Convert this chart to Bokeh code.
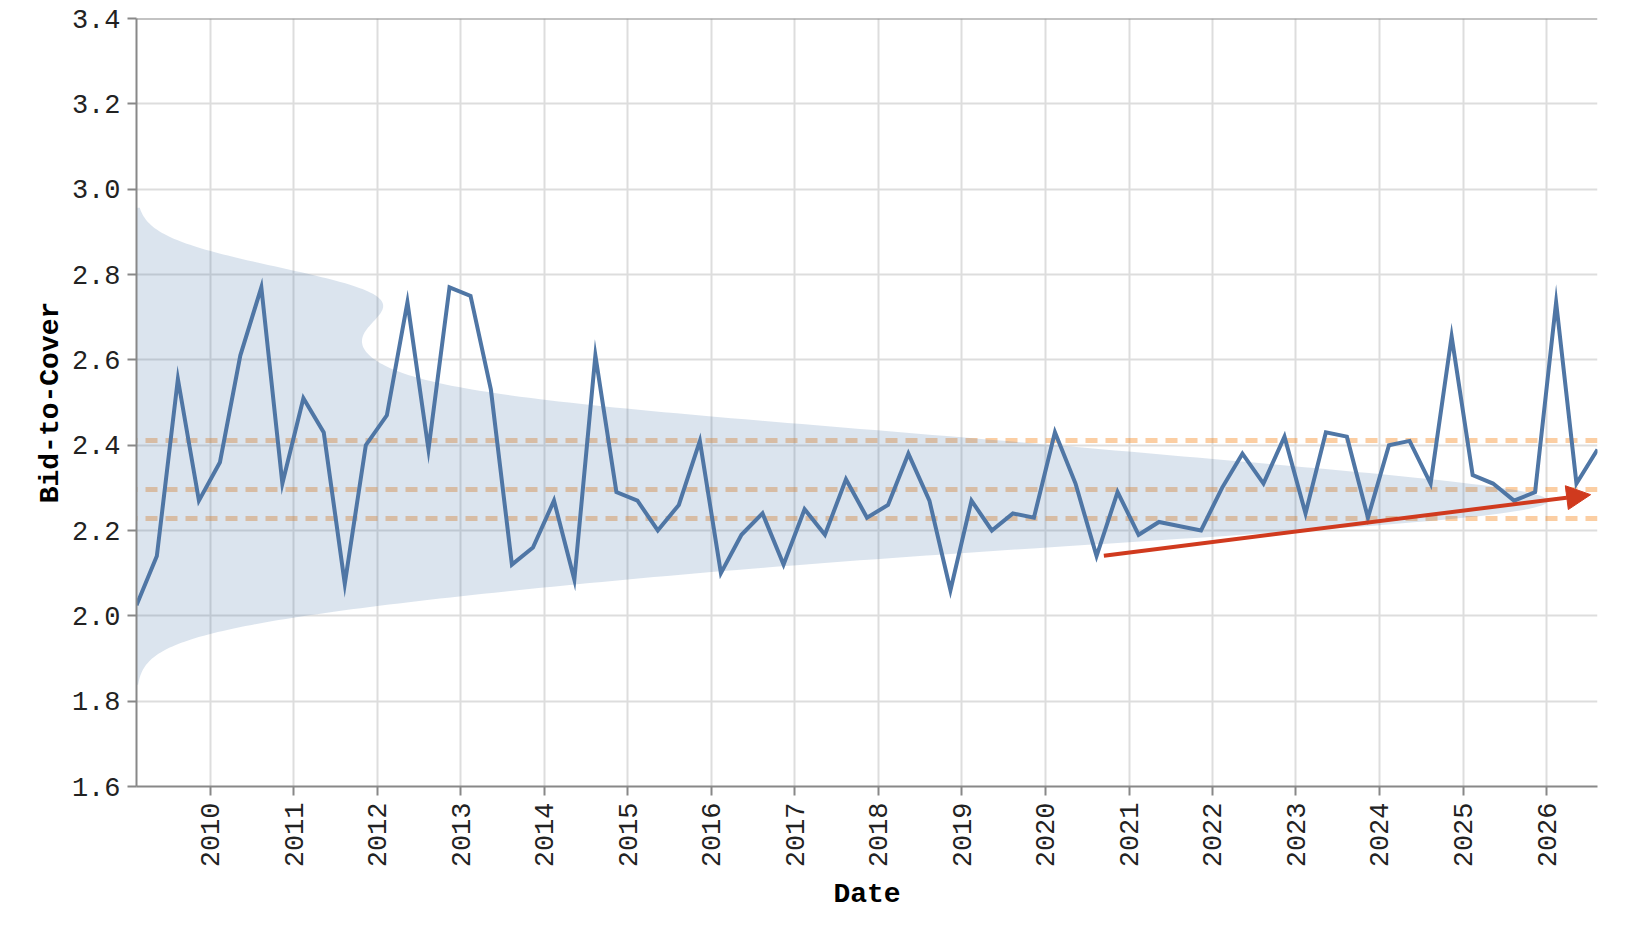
import math
import numpy as np
import pandas as pd
from bokeh.plotting import figure
from bokeh.models import (Range1d, FixedTicker, DatetimeTickFormatter, NumeralTickFormatter,
                          Span, Arrow, NormalHead)
from bokeh.embed import file_html
from bokeh.resources import INLINE

# ---------------- data ----------------
first_auction = "2009-02-12"          # quarterly auctions: Feb / May / Aug / Nov
bid_to_cover = [
    2.025, 2.14, 2.555, 2.27, 2.36, 2.61, 2.77, 2.31, 2.51, 2.43,
    2.075, 2.40, 2.47, 2.735, 2.39, 2.77, 2.75, 2.53, 2.12, 2.16,
    2.27, 2.085, 2.61, 2.29, 2.27, 2.20, 2.26, 2.41, 2.10, 2.19,
    2.24, 2.12, 2.25, 2.19, 2.32, 2.23, 2.26, 2.38, 2.27, 2.06,
    2.27, 2.20, 2.24, 2.23, 2.43, 2.31, 2.14, 2.29, 2.19, 2.22,
    2.21, 2.20, 2.30, 2.38, 2.31, 2.42, 2.24, 2.43, 2.42, 2.23,
    2.40, 2.41, 2.31, 2.655, 2.33, 2.31, 2.27, 2.29, 2.735, 2.31,
    2.39,
]
quartile_levels = [2.228, 2.295, 2.412]
trend_dates = ["2020-09-13", "2026-07-13"]
trend_values = [2.141, 2.284]
year_ticks = list(range(2010, 2027))
y_ticks = [1.6, 1.8, 2.0, 2.2, 2.4, 2.6, 2.8, 3.0, 3.2, 3.4]
Y_MIN, Y_MAX = 1.6, 3.4

# KDE settings for the marginal distribution band
KDE_BANDWIDTH = 0.069
KDE_CUT = 2.7
DENSITY_FRACTION = 0.966

# ---------------- styles ----------------
FONT = "Liberation Mono"
LINE_BLUE = "#4f76a5"
BAND_BLUE = "#4c78a8"
ORANGE = "#f58518"
RED = "#d03a1e"
AXIS_GRAY = "#888888"
GRID_GRAY = "#dddddd"

dates = pd.date_range(first_auction, periods=len(bid_to_cover), freq=pd.DateOffset(months=3))
x_ms = np.array([d.value / 1e6 for d in dates])
x0, x1 = x_ms[0], x_ms[-1]
vals = np.array(bid_to_cover)

# gaussian KDE of the values, drawn horizontally from the left edge
grid = np.linspace(vals.min() - KDE_CUT * KDE_BANDWIDTH,
                   vals.max() + KDE_CUT * KDE_BANDWIDTH, 400)
dens = np.exp(-((grid[:, None] - vals[None, :]) ** 2) / (2 * KDE_BANDWIDTH ** 2)).sum(axis=1)
band_w = dens / dens.max() * DENSITY_FRACTION * (x1 - x0)

p = figure(width=1628, height=914, x_axis_type="datetime",
           x_range=Range1d(x0, x1), y_range=Range1d(Y_MIN, Y_MAX),
           output_backend="svg", toolbar_location=None,
           min_border_left=136, min_border_right=31,
           min_border_top=18, min_border_bottom=128)
p.outline_line_color = None
p.background_fill_color = "white"

year_ms = [pd.Timestamp(f"{y}-01-01").value / 1e6 for y in year_ticks]

# grid
p.xgrid.ticker = FixedTicker(ticks=year_ms)
p.ygrid.ticker = FixedTicker(ticks=y_ticks)
p.grid.grid_line_color = GRID_GRAY
p.grid.grid_line_width = 2

# quartile dashed lines (below the band)
p.hspan(y=quartile_levels, line_color=ORANGE, line_alpha=0.4, line_width=5,
        line_dash="12 8", line_dash_offset=11)

# marginal density band
p.harea(y=grid, x1=np.full_like(grid, x0), x2=x0 + band_w,
        fill_color=BAND_BLUE, fill_alpha=0.2)

# series line
p.line(x_ms, vals, line_color=LINE_BLUE, line_width=4, line_join="miter")

# trend arrow
ts = [pd.Timestamp(d).value / 1e6 for d in trend_dates]
p.add_layout(Arrow(end=NormalHead(size=24, fill_color=RED, line_color=RED),
                   x_start=ts[0], y_start=trend_values[0],
                   x_end=ts[1], y_end=trend_values[1],
                   line_color=RED, line_width=4))

# top frame line
p.add_layout(Span(location=Y_MAX, dimension="width", line_color=AXIS_GRAY, line_width=2))

# axes
p.xaxis.ticker = FixedTicker(ticks=year_ms)
p.xaxis.formatter = DatetimeTickFormatter(years="%Y", months="%Y", days="%Y", hours="%Y")
p.xaxis.major_label_orientation = math.pi / 2
p.yaxis.ticker = FixedTicker(ticks=y_ticks)
p.yaxis.formatter = NumeralTickFormatter(format="0.0")

for ax in (p.xaxis[0], p.yaxis[0]):
    ax.axis_line_color = AXIS_GRAY
    ax.axis_line_width = 2
    ax.major_tick_line_color = AXIS_GRAY
    ax.major_tick_line_width = 2
    ax.major_tick_out = 9
    ax.major_tick_in = 0
    ax.minor_tick_line_color = None
    ax.major_label_text_font = FONT
    ax.major_label_text_font_size = "27px"
    ax.major_label_text_color = "#222222"
    ax.major_label_standoff = 7
    ax.axis_label_text_font = FONT
    ax.axis_label_text_font_size = "28px"
    ax.axis_label_text_font_style = "bold"
    ax.axis_label_text_color = "#000000"

p.xaxis.axis_label = "Date"
p.yaxis.axis_label = "Bid-to-Cover"
p.xaxis.axis_label_standoff = 9
p.yaxis.axis_label_standoff = 3

open("out.html", "w").write(file_html(p, INLINE))
